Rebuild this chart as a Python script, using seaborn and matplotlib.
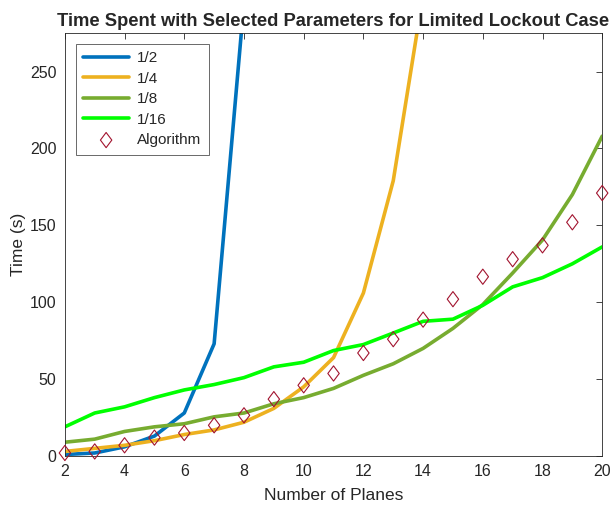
import numpy as np
import pandas as pd
import seaborn as sns
import matplotlib.pyplot as plt
from matplotlib.path import Path

planes = list(range(2, 21))

# time (s) per number of planes
half = [1, 2, 6, 13, 28, 73, 295, 900, 2000]
quarter = [3, 5, 7, 10, 14, 17, 22, 31, 45, 64, 106, 179, 300, 500]
eighth = [9, 11, 16, 19, 21, 25.5, 28, 34, 38, 44, 52.5, 60, 70, 83, 98.5, 119, 140.5, 170, 208]
sixteenth = [19, 28, 32, 38, 43, 46.5, 51, 58, 61, 68.6, 72.5, 80, 87.6, 89, 98, 110, 116, 125, 136]
algorithm = [2, 3, 7, 12, 15, 20, 26.5, 37, 46, 53.7, 67, 76, 88.7, 102, 116.6, 128, 137, 152, 171]

series = {"1/2": half, "1/4": quarter, "1/8": eighth, "1/16": sixteenth}
colors = {"1/2": "#0072BD", "1/4": "#EDB120", "1/8": "#77AC30", "1/16": "#00FF00"}

rows = []
for name, vals in series.items():
    for x, y in zip(planes, vals):
        rows.append({"Planes": x, "Time": y, "Param": name})
df = pd.DataFrame(rows)
alg_df = pd.DataFrame({"Planes": planes, "Time": algorithm})

# MATLAB-style diamond: a bit taller than wide
diamond = Path([(0, 1), (0.75, 0), (0, -1), (-0.75, 0), (0, 1)],
               [Path.MOVETO, Path.LINETO, Path.LINETO, Path.LINETO, Path.CLOSEPOLY])

sns.set_style("white")
plt.rcParams["font.family"] = ["Liberation Sans", "DejaVu Sans"]

fig = plt.figure(figsize=(6.12, 5.09), dpi=100)
ax = fig.add_axes([0.106, 0.104, 0.878, 0.831])

sns.lineplot(data=df, x="Planes", y="Time", hue="Param", palette=colors,
             hue_order=list(series.keys()), linewidth=2.6, ax=ax)
ax.scatter(alg_df["Planes"], alg_df["Time"], marker=diamond, s=120, facecolors="none",
           edgecolors="#A2142F", linewidths=0.8, label="Algorithm", clip_on=False, zorder=5)

ax.set_xlim(2, 20)
ax.set_ylim(0, 275)
ax.set_xticks(range(2, 21, 2))
ax.set_yticks(range(0, 251, 50))
ax.tick_params(direction="in", length=4, width=0.6, colors="#262626", labelsize=11.5,
               top=True, right=True, labelcolor="#262626", pad=6)
for s in ax.spines.values():
    s.set_color("#262626")
    s.set_linewidth(0.6)
ax.set_xlabel("Number of Planes", fontsize=12.5, color="#262626", labelpad=6)
ax.set_ylabel("Time (s)", fontsize=12.5, color="#262626", labelpad=3)
ax.set_title("Time Spent with Selected Parameters for Limited Lockout Case",
             fontsize=13.2, fontweight="bold", pad=5)

leg = ax.legend(loc="upper left", fontsize=11, frameon=True, fancybox=False,
                borderaxespad=0.7, handlelength=3.0, handletextpad=0.5,
                labelspacing=0.42, borderpad=0.5)
leg.get_frame().set_edgecolor("#262626")
leg.get_frame().set_linewidth(0.6)

fig.savefig("out.png", dpi=100)
